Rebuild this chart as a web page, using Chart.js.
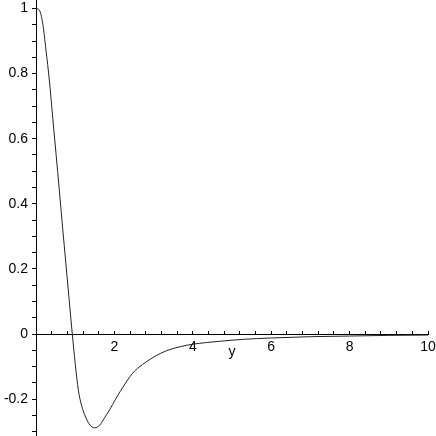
<!DOCTYPE html>
<html>
<head>
<meta charset="utf-8">
<script src="https://cdn.jsdelivr.net/npm/chart.js@4.4.1/dist/chart.umd.min.js"></script>
<style>
  html, body { margin: 0; padding: 0; background: #fff; }
  canvas { display: block; }
</style>
</head>
<body>
<canvas id="chart" width="436" height="436"></canvas>
<script>
// curve values
const xValues = [0, 0.085, 0.17, 0.255, 0.34, 0.425, 0.51, 0.595, 0.68, 0.76, 0.84, 0.926,
  1.0, 1.08, 1.16, 1.25, 1.35, 1.5, 1.63, 1.76, 1.89, 2.02, 2.15, 2.27, 2.4, 2.53, 2.78,
  3.04, 3.33, 3.67, 4.0, 4.35, 4.7, 5.3, 6.0, 7.0, 8.0, 9.0, 10.0];
const yValues = [1.0, 0.995, 0.955, 0.872, 0.78, 0.667, 0.555, 0.442, 0.325, 0.22, 0.113, 0.0,
  -0.09, -0.172, -0.218, -0.25, -0.275, -0.288, -0.279, -0.255, -0.23, -0.202, -0.176, -0.153, -0.13, -0.112, -0.088,
  -0.068, -0.051, -0.039, -0.031, -0.026, -0.022, -0.016, -0.012, -0.008, -0.006, -0.004, -0.003];

// axis ticks
const xTickLabels = [2, 4, 6, 8, 10];
const yTickLabels = [-0.2, 0, 0.2, 0.4, 0.6, 0.8, 1];
const xMinorStep = 0.4;
const yMinorStep = 0.05;

const FONT = { family: '"Liberation Sans", Arial, sans-serif', size: 14 };

function stepTicks(min, max, step) {
  const out = [];
  const start = Math.ceil(min / step - 1e-9);
  const end = Math.floor(max / step + 1e-9);
  for (let i = start; i <= end; i++) out.push({ value: Math.round(i * step * 1000) / 1000 });
  return out;
}

function labelFor(list) {
  return (value) => {
    const hit = list.find(v => Math.abs(v - value) < 1e-6);
    return hit === undefined ? '' : String(hit);
  };
}

const points = xValues.map((x, i) => ({ x, y: yValues[i] }));

new Chart(document.getElementById('chart'), {
  type: 'line',
  data: {
    datasets: [{
      data: points,
      borderColor: '#222',
      borderWidth: 1,
      pointRadius: 0,
      cubicInterpolationMode: 'monotone',
      fill: false,
    }],
  },
  options: {
    responsive: false,
    animation: false,
    layout: { padding: { left: 0, right: 8, top: 0, bottom: 0 } },
    plugins: { legend: { display: false }, tooltip: { enabled: false } },
    scales: {
      x: {
        type: 'linear',
        position: { y: 0 },
        min: 0,
        max: 10,
        afterBuildTicks: (scale) => { scale.ticks = stepTicks(0, 10, xMinorStep); },
        afterFit: (scale) => { scale.height = 0; scale.paddingLeft = 0; scale.paddingRight = 0; },
        grid: { drawOnChartArea: false, drawTicks: true, tickLength: -4, color: '#000' },
        border: { display: true, color: '#000', width: 1 },
        ticks: {
          autoSkip: false,
          maxRotation: 0,
          padding: 9,
          color: '#000',
          font: FONT,
          callback: labelFor(xTickLabels),
        },
        title: {
          display: true,
          text: 'y',
          color: '#000',
          font: FONT,
          padding: { top: 0, bottom: -26 },
        },
      },
      y: {
        type: 'linear',
        position: 'left',
        min: -0.313,
        max: 1.026,
        afterBuildTicks: (scale) => { scale.ticks = stepTicks(-0.313, 1.026, yMinorStep); },
        afterFit: (scale) => { scale.width = 36; scale.paddingTop = 0; scale.paddingBottom = 0; },
        grid: { drawOnChartArea: false, drawTicks: true, tickLength: 4, color: '#000' },
        border: { display: true, color: '#000', width: 1 },
        ticks: {
          autoSkip: false,
          padding: 4,
          color: '#000',
          font: FONT,
          callback: labelFor(yTickLabels),
        },
      },
    },
  },
});
</script>
</body>
</html>
